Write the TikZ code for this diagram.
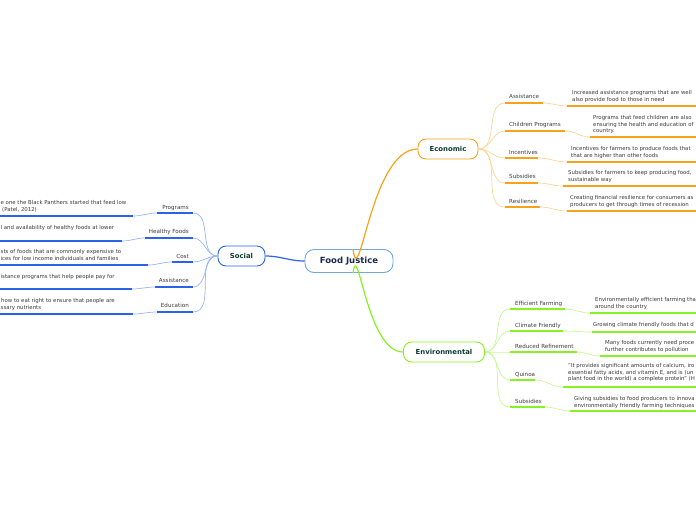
\documentclass[tikz,border=0pt]{standalone}
\usepackage{fontspec}
\setmainfont{DejaVu Sans}
\usetikzlibrary{positioning,calc}
\definecolor{fjedge}{HTML}{6FA8DC}
\definecolor{fjtext}{HTML}{1C2A4D}
\definecolor{titletext}{HTML}{0F3D33}
\definecolor{leaftext}{HTML}{3A3A3A}
\definecolor{socblue}{HTML}{2A62E8}
\definecolor{socpale}{HTML}{9AB4F5}
\definecolor{ecoorange}{HTML}{F7A21B}
\definecolor{ecopale}{HTML}{FCD595}
\definecolor{envgreen}{HTML}{86F21F}
\definecolor{envpale}{HTML}{C7F79B}

\begin{document}
\begin{tikzpicture}[x=1pt, y=-1pt,
    font=\fontsize{5.4}{6.6}\selectfont,
    root/.style={draw=fjedge, rounded corners=9pt, line width=0.9pt, fill=white,
      minimum width=88pt, minimum height=23pt, inner sep=0pt, text=fjtext,
      font=\fontsize{8.5}{10}\selectfont\bfseries},
    topic/.style={draw=#1, rounded corners=8pt, line width=0.9pt, fill=white,
      minimum height=20pt, inner sep=0pt, text=titletext,
      font=\fontsize{6.9}{8}\selectfont\bfseries},
    leaf/.style={inner sep=0pt, text=leaftext, font=\fontsize{5.6}{6}\selectfont},
    note/.style={anchor=base west, inner sep=0pt, align=left, text=leaftext},
    under/.style={draw=#1, line width=1.7pt},
    twig/.style={draw=#1, line width=0.7pt},
    trunk/.style={draw=#1, line width=1.2pt}
  ]
    \useasboundingbox (0,0) rectangle (696,520);
    \clip (0,0) rectangle (696,520);

    % central node and main topics
    \node[root] (fj) at (349,261) {Food Justice};
    \node[topic=socblue, minimum width=47pt] (social) at (241.5,256) {Social};
    \node[topic=ecoorange, minimum width=60pt] (econ) at (448,149) {Economic};
    \node[topic=envgreen, minimum width=81pt] (env) at (444,352) {Environmental};

    \draw[trunk=socblue] (fj.west) to[out=180, in=0] (social.east);
    \draw[trunk=ecoorange] ($(fj.north)+(4,0)$) to[out=-82, in=180] (econ.west);
    \draw[trunk=envgreen] ($(fj.south)+(4,0)$) to[out=82, in=180] (env.west);

    % Economic
    \node[leaf, anchor=base west] (eassist) at (509,98) {Assistance};
    \node[leaf, anchor=base west] (echild) at (509,126) {Children Programs};
    \node[leaf, anchor=base west] (eincent) at (509,154) {Incentives};
    \node[leaf, anchor=base west] (esubs) at (509,178) {Subsidies};
    \node[leaf, anchor=base west] (eresil) at (509,203) {Resilience};

    \coordinate (eassistA) at (505,103); \coordinate (eassistB) at (543,103);
    \coordinate (echildA) at (505,131); \coordinate (echildB) at (565,131);
    \coordinate (eincentA) at (505,158); \coordinate (eincentB) at (538,158);
    \coordinate (esubsA) at (505,183); \coordinate (esubsB) at (538,183);
    \coordinate (eresilA) at (505,207); \coordinate (eresilB) at (540,207);

    \coordinate (eassistC) at (567,106); \coordinate (eassistD) at (700,106);
    \coordinate (echildC) at (590,137); \coordinate (echildD) at (700,137);
    \coordinate (eincentC) at (567,162); \coordinate (eincentD) at (700,162);
    \coordinate (esubsC) at (563,186); \coordinate (esubsD) at (700,186);
    \coordinate (eresilC) at (567,211); \coordinate (eresilD) at (700,211);

    \foreach \b in {eassist, echild, eincent, esubs, eresil} {
      \draw[twig=ecopale] (econ.east) to[out=0, in=180] (\b A);
      \draw[under=ecoorange] (\b A) -- (\b B);
      \draw[twig=ecopale] (\b B) to[out=0, in=180] (\b C);
      \draw[under=ecoorange] (\b C) -- (\b D);
    }

    % notes: base = baseline of their last line
    \node[note] (eassistnote) at (572,101.1) {Increased assistance programs that are well\\also provide food to those in need};
    \node[note] (echildnote) at (593,132.7) {Programs that feed children are also\\ensuring the health and education of\\country.};
    \node[note] (eincentnote) at (571,157.1) {Incentives for farmers to produce foods that\\that are higher than other foods};
    \node[note] (esubsnote) at (568,181.1) {Subsidies for farmers to keep producing food,\\sustainable way};
    \node[note] (eresilnote) at (570,206.1) {Creating financial resilience for consumers as\\producers to get through times of recession};

    % Environmental
    \node[leaf, anchor=base west] (vfarm) at (515,305) {Efficient Farming};
    \node[leaf, anchor=base west] (vclim) at (515,327) {Climate Friendly};
    \node[leaf, anchor=base west] (vrefine) at (515,348) {Reduced Refinement};
    \node[leaf, anchor=base west] (vquin) at (515,376) {Quinoa};
    \node[leaf, anchor=base west] (vsubs) at (515,403) {Subsidies};

    \coordinate (vfarmA) at (510,309); \coordinate (vfarmB) at (565,309);
    \coordinate (vclimA) at (510,331); \coordinate (vclimB) at (563,331);
    \coordinate (vrefineA) at (510,352); \coordinate (vrefineB) at (577,352);
    \coordinate (vquinA) at (510,380); \coordinate (vquinB) at (535,380);
    \coordinate (vsubsA) at (510,407); \coordinate (vsubsB) at (545,407);

    \coordinate (vfarmC) at (590,313); \coordinate (vfarmD) at (700,313);
    \coordinate (vclimC) at (592,332); \coordinate (vclimD) at (700,332);
    \coordinate (vrefineC) at (600,356); \coordinate (vrefineD) at (700,356);
    \coordinate (vquinC) at (563,387); \coordinate (vquinD) at (700,387);
    \coordinate (vsubsC) at (570,411); \coordinate (vsubsD) at (700,411);

    \foreach \b in {vfarm, vclim, vrefine, vquin, vsubs} {
      \draw[twig=envpale] (env.east) to[out=0, in=180] (\b A);
      \draw[under=envgreen] (\b A) -- (\b B);
      \draw[twig=envpale] (\b B) to[out=0, in=180] (\b C);
      \draw[under=envgreen] (\b C) -- (\b D);
    }

    \node[note] (vfarmnote) at (595,308.1) {Environmentally efficient farming that\\around the country};
    \node[note] (vclimnote) at (593,326.5) {Growing climate friendly foods that d};
    \node[note] (vrefinenote) at (605,351.1) {Many foods currently need proce\\further contributes to pollution};
    \node[note] (vquinnote) at (568,380.7) {"It provides significant amounts of calcium, iro\\essential fatty acids, and vitamin E, and is (un\\plant food in the world) a complete protein" (H};
    \node[note] (vsubsnote) at (574,407.1) {Giving subsidies to food producers to innova\\environmentally friendly farming techniques};

    % Social
    \node[leaf, anchor=base east] (sprog) at (189,209) {Programs};
    \node[leaf, anchor=base east] (shealth) at (189,233) {Healthy Foods};
    \node[leaf, anchor=base east] (scost) at (189,258) {Cost};
    \node[leaf, anchor=base east] (sassist) at (189,282) {Assistance};
    \node[leaf, anchor=base east] (seduc) at (189,307) {Education};

    \coordinate (sprogA) at (193,213); \coordinate (sprogB) at (157,213);
    \coordinate (shealthA) at (193,238); \coordinate (shealthB) at (145,238);
    \coordinate (scostA) at (193,262); \coordinate (scostB) at (172,262);
    \coordinate (sassistA) at (193,287); \coordinate (sassistB) at (155,287);
    \coordinate (seducA) at (193,312); \coordinate (seducB) at (157,312);

    \coordinate (sprogC) at (133,216); \coordinate (sprogD) at (-5,216);
    \coordinate (shealthC) at (122,241); \coordinate (shealthD) at (-5,241);
    \coordinate (scostC) at (148,265); \coordinate (scostD) at (-5,265);
    \coordinate (sassistC) at (132,289); \coordinate (sassistD) at (-5,289);
    \coordinate (seducC) at (133,314); \coordinate (seducD) at (-5,314);

    \foreach \b in {sprog, shealth, scost, sassist, seduc} {
      \draw[twig=socpale] (social.west) to[out=180, in=0] (\b A);
      \draw[under=socblue] (\b A) -- (\b B);
      \draw[twig=socpale] (\b B) to[out=180, in=0] (\b C);
      \draw[under=socblue] (\b C) -- (\b D);
    }

    \node[note] (sprognote) at (0.5,211.1) {e one the Black Panthers started that feed low\\\hspace*{1.5pt}(Patel, 2012)};
    \node[note] (shealthnote) at (0.5,229.5) {l and availability of healthy foods at lower};
    \node[note] (scostnote) at (0.5,260.1) {sts of foods that are commonly expensive to\\ices for low income individuals and families};
    \node[note] (sassistnote) at (0.5,278.5) {istance programs that help people pay for};
    \node[note] (seducnote) at (0.5,309.1) {\hspace*{0.5pt}how to eat right to ensure that people are\\ssary nutrients};
\end{tikzpicture}
\end{document}
